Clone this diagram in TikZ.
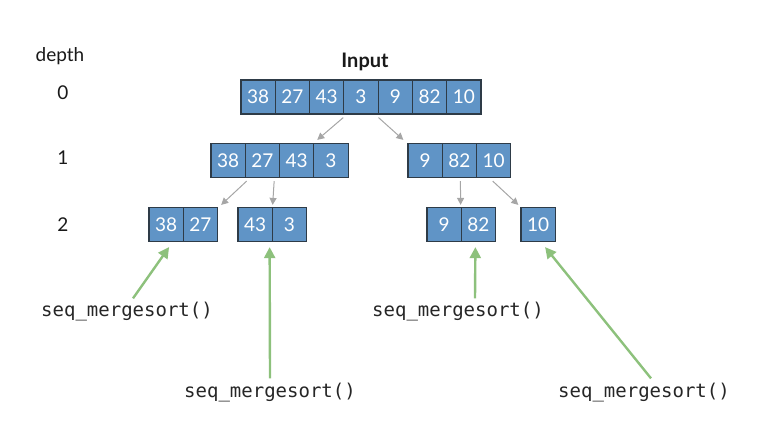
\documentclass[tikz,border=0pt]{standalone}
\usepackage{fontspec}
\setmainfont{Lato}
\setmonofont{DejaVu Sans Mono}
\usetikzlibrary{arrows.meta,calc}
\definecolor{cellblue}{HTML}{6094C6}
\definecolor{celledge}{HTML}{2E3B47}
\definecolor{splitgray}{HTML}{A6A6A6}
\definecolor{callgreen}{HTML}{8DC17C}
\tikzstyle{cell}=[rectangle, draw=celledge, fill=cellblue, line width=1.2pt,
  inner sep=0pt, minimum width=34.3pt, minimum height=34pt,
  text=white, font=\fontsize{19}{19}\selectfont]
\tikzstyle{split}=[draw=splitgray, line width=1pt, -{Triangle[length=7pt,width=7pt]}]
\tikzstyle{call}=[draw=callgreen, line width=2.4pt, -{Triangle[length=11pt,width=11pt]}]
\tikzstyle{fname}=[inner sep=0pt, font=\ttfamily\fontsize{19}{19}\selectfont, text=black!85]
\tikzstyle{level}=[inner sep=0pt, font=\fontsize{19}{19}\selectfont, text=black!90]
\newcommand{\cell}{\node[cell]}

\begin{document}
\begin{tikzpicture}[x=1pt, y=-1pt]
\useasboundingbox (0,0) rectangle (758,432);
\node[level] (depth) at (60,56) {depth};
\node[level] (l0) at (63,93) {0};
\node[level] (l1) at (63,158) {1};
\node[level] (l2) at (63,225) {2};
\node[level, font=\bfseries\fontsize{20}{20}\selectfont] (input) at (365,62) {Input};
% depth 0
\cell (a1) at (258.1,97) {38};
\cell (a2) at (292.4,97) {27};
\cell (a3) at (326.7,97) {43};
\cell (a4) at (361.0,97) {3};
\cell (a5) at (395.3,97) {9};
\cell (a6) at (429.6,97) {82};
\cell (a7) at (463.9,97) {10};
% depth 1
\cell (b1) at (228.1,160.5) {38};
\cell (b2) at (262.4,160.5) {27};
\cell (b3) at (296.7,160.5) {43};
\cell (b4) at (331.0,160.5) {3};
\cell (d1) at (425.1,160.5) {9};
\cell (d2) at (459.4,160.5) {82};
\cell (d3) at (493.7,160.5) {10};
% depth 2
\cell (c1) at (166.1,224.5) {38};
\cell (c2) at (200.4,224.5) {27};
\cell (c3) at (255.1,224.5) {43};
\cell (c4) at (289.4,224.5) {3};
\cell (e1) at (444.1,224.5) {9};
\cell (e2) at (478.4,224.5) {82};
\cell (f1) at (538.1,224.5) {10};
% sequential calls
\node[fname] (s1) at (127,312) {seq\_mergesort()};
\node[fname] (s2) at (270,393) {seq\_mergesort()};
\node[fname] (s3) at (458,312) {seq\_mergesort()};
\node[fname] (s4) at (644,393) {seq\_mergesort()};
\path
($(a4.south west)+(0,3)$) edge[split] ($(b4.north west)+(4,-3)$)
($(a5.south west)+(1,3)$) edge[split] ($(d1.north west)+(-4,-3)$)
($(b2.south west)+(2,3)$) edge[split] ($(c2.north east)+(3,-2)$)
($(b2.south east)+(-6,3)$) edge[split] ($(c4.north west)+(1,-2)$)
($(d2.south)+(1,3)$) edge[split] ($(e2.north west)+(0,-2)$)
($(d3.south)+(-1,3)$) edge[split] ($(f1.north west)+(-2,-2)$)
;
\path
($(s1.north)+(6,-4)$) edge[call] ($(c1.south)+(3,5)$)
($(s2.north)+(0,-5)$) edge[call] ($(c4.south west)+(-2,5)$)
($(s3.north)+(17,-4)$) edge[call] ($(e2.south)+(-3,5)$)
($(s4.north)+(7,-5)$) edge[call] ($(f1.south)+(7,5)$)
;
\end{tikzpicture}
\end{document}
